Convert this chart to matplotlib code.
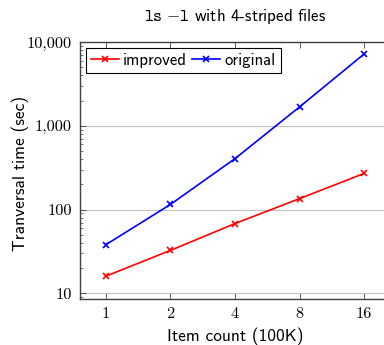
import matplotlib
matplotlib.use("Agg")
import matplotlib.pyplot as plt
from matplotlib.ticker import FixedLocator, NullFormatter, LogLocator

items = [1, 2, 4, 8, 16]
improved = [16, 32.5, 68, 135, 270]
original = [38, 115, 405, 1680, 7200]
x_tick_labels = ["1", "2", "4", "8", "16"]
y_ticks = [10, 100, 1000, 10000]
y_tick_labels = ["10", "100", "1,000", "10,000"]

plt.rcParams['axes.unicode_minus'] = False
plt.rcParams['mathtext.fontset'] = 'cm'

fig = plt.figure(figsize=(3.84, 3.45), dpi=100)
ax = fig.add_axes([80/384, 46/345, 310/384, 257/345])

ax.plot(items, improved, color='#ff0000', marker='x', markersize=4.5, mew=1.2, lw=1.2, label='improved')
ax.plot(items, original, color='#0000ff', marker='x', markersize=4.5, mew=1.2, lw=1.2, label='original')

ax.set_xscale('log', base=2)
ax.set_yscale('log')
ax.set_xlim(2 ** -0.4, 2 ** 4.4)
ax.set_ylim(10 ** 0.932, 10 ** 4.0)

ax.set_xticks(items)
ax.set_xticklabels(x_tick_labels, fontfamily='cmr10', fontsize=11.8)
ax.xaxis.set_minor_locator(FixedLocator([]))
ax.set_yticks(y_ticks)
ax.set_yticklabels(y_tick_labels, fontfamily='cmr10', fontsize=11.8)
ax.yaxis.set_minor_locator(LogLocator(base=10, subs=range(2, 10)))
ax.yaxis.set_minor_formatter(NullFormatter())

ax.tick_params(which='major', direction='in', length=4, width=0.6, color='#404040',
               top=True, right=True, pad=6)
ax.tick_params(which='minor', direction='in', length=2.5, width=0.5, color='#404040',
               left=True, right=True)
ax.grid(True, axis='y', which='major', color='#c0c0c0', lw=0.8)
ax.set_axisbelow(True)
for s in ax.spines.values():
    s.set_color('#404040')
    s.set_linewidth(1.0)

ax.set_xlabel('Item count (100K)', fontfamily='cmss10', fontsize=12.5, labelpad=5)
ax.set_ylabel('Tranversal time (sec)', fontfamily='cmss10', fontsize=12.5)
ax.yaxis.set_label_coords(-0.165, 0.49)

fig.text(235/384, 1 - 17/345, r'$\mathtt{ls\ {-}l}$ with 4-striped files', ha='center', va='center',
         fontfamily='cmss10', fontsize=12.2)

leg = ax.legend(loc='upper left', ncol=2, frameon=True, fancybox=False, prop={'family': 'cmss10', 'size': 12},
                handlelength=1.7, handletextpad=0.25, columnspacing=0.3, borderpad=0.3,
                borderaxespad=0.33)
leg.get_frame().set_edgecolor('black')
leg.get_frame().set_linewidth(0.8)
leg.get_frame().set_alpha(1)

fig.savefig('out.png', dpi=100)
